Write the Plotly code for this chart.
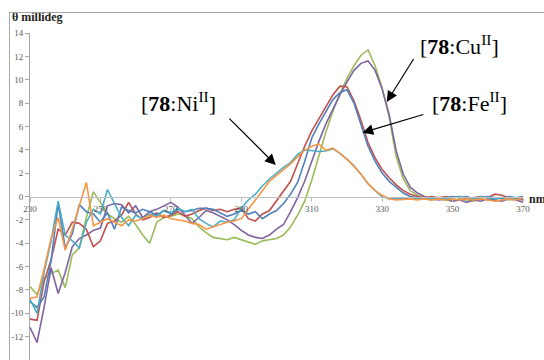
import plotly.graph_objects as go

wavelength = list(range(230, 372, 2))

cu_green = [-7.7, -8.4, -7.0, -6.6, -6.3, -7.8, -5.0, -4.4, -1.8, 0.4,
            -0.5, -1.5, -1.9, -2.2, -1.7, -2.4, -3.3, -4.0, -2.2, -1.8,
            -1.7, -1.5, -1.6, -1.9, -2.6, -3.1, -3.5, -3.6, -3.7, -3.5,
            -3.7, -3.9, -4.1, -3.8, -3.7, -3.6, -3.3, -2.6, -1.6, -0.4,
            1.4, 3.5, 5.5, 7.3, 8.8, 10.1, 11.2, 12.1, 12.55, 11.2,
            9.3, 6.8, 3.4, 1.5, 0.5, 0.1, -0.2, -0.3, -0.2, -0.3,
            -0.4, -0.2, -0.3, -0.4, -0.2, -0.3, -0.2, -0.1, -0.3, -0.2, -0.1]

cu_purple = [-11.2, -12.5, -9.5, -6.1, -8.3, -6.5, -4.3, -3.6, -3.3, -2.9,
             -2.7, -0.8, -0.6, -0.7, -1.4, -0.8, -1.8, -1.3, -1.1, -0.8,
             -0.5, -0.9, -1.6, -2.3, -1.8, -1.2, -1.4, -1.7, -2.0, -2.4,
             -2.9, -3.3, -3.5, -3.6, -3.3, -2.8, -2.4, -1.3, -0.1, 1.3,
             3.0, 4.7, 6.2, 7.5, 8.7, 9.8, 10.8, 11.4, 11.6, 10.8,
             9.2, 7.0, 3.9, 1.9, 0.8, 0.3, 0.0, -0.2, -0.3, -0.2,
             -0.4, -0.3, -0.5, -0.3, -0.4, -0.2, -0.3, -0.4, -0.2, -0.3, -0.5]

fe_red = [-10.5, -10.6, -7.3, -5.4, -2.8, -3.3, -2.2, -2.3, -2.8, -4.3,
          -3.8, -2.3, -2.1, -1.6, -0.5, -1.5, -2.0, -1.8, -1.4, -1.8,
          -1.6, -1.3, -1.7, -1.5, -1.2, -1.0, -1.2, -1.1, -1.3, -1.1,
          -1.0, -1.9, -2.1, -1.5, -1.2, -0.4, 0.4, 1.3, 2.8, 4.3,
          5.6, 6.6, 7.7, 8.7, 9.45, 9.4, 8.2, 6.5, 4.6, 3.3,
          2.3, 1.6, 1.0, 0.5, 0.2, 0.0, -0.1, 0.0, -0.1, 0.0,
          -0.1, 0.0, -0.2, -0.1, 0.0, -0.1, 0.2, 0.1, -0.1, -0.2, -0.3]

fe_blue = [-9.0, -9.5, -8.6, -5.5, -0.6, -4.4, -3.2, -0.7, -1.3, -1.5,
           -2.2, -1.4, -2.8, -0.9, -1.2, -1.4, -1.1, -1.3, -1.6, -1.2,
           -1.5, -1.1, -1.3, -1.2, -1.0, -1.0, -1.1, -1.4, -1.7, -1.5,
           -1.2, -1.5, -1.3, -1.9, -1.5, -1.2, -0.6, 0.2, 1.2, 3.0,
           5.0, 6.2, 7.3, 8.3, 8.9, 9.15, 8.0, 6.2, 4.3, 3.0,
           2.0, 1.3, 0.8, 0.3, 0.0, -0.1, -0.2, -0.1, -0.2, -0.1,
           0.0, -0.1, 0.0, -0.2, -0.1, 0.0, -0.1, -0.2, 0.0, -0.1, 0.0]

ni_cyan = [-8.8, -10.0, -6.5, -3.8, -0.4, -3.3, -3.8, -4.4, -2.2, -1.1,
           -1.5, 0.6, -0.6, -1.8, -2.5, -1.6, -1.9, -1.5, -1.7, -1.2,
           -1.4, -1.0, -1.3, -1.1, -1.9, -2.3, -2.6, -2.1, -2.2, -2.0,
           -1.0, -0.3, 0.2, 0.9, 1.5, 2.0, 2.5, 2.9, 3.6, 4.0,
           3.9, 3.85, 3.9, 4.1, 3.7, 3.2, 2.6, 1.9, 1.1, 0.5,
           0.0, -0.2, -0.2, -0.2, -0.1, -0.2, -0.1, -0.2, -0.1, -0.2,
           -0.1, 0.0, -0.1, -0.2, 0.0, -0.1, -0.2, -0.1, -0.2, -0.1, -0.2]

ni_orange = [-8.7, -8.6, -6.2, -3.6, -1.8, -4.6, -2.8, -0.9, 1.2, -2.5,
             -2.2, -1.9, -2.2, -2.5, -2.0, -2.1, -1.9, -1.6, -1.8, -1.6,
             -1.9, -2.0, -2.1, -2.3, -2.4, -2.8, -2.6, -2.4, -2.2, -2.1,
             -1.9, -1.1, -0.3, 0.6, 1.3, 1.8, 2.3, 2.8, 3.4, 3.95,
             4.3, 4.5, 3.95, 4.15, 3.7, 3.2, 2.6, 1.9, 1.1, 0.5,
             0.1, -0.2, -0.3, -0.25, -0.2, -0.3, -0.2, -0.3, -0.2, -0.3,
             -0.2, -0.3, -0.2, -0.3, -0.2, -0.3, -0.4, -0.3, -0.2, -0.3, -0.1]

series = [
    ("Cu green", cu_green, "#9BBB59"),
    ("Cu purple", cu_purple, "#8064A2"),
    ("Fe red", fe_red, "#C0504D"),
    ("Fe blue", fe_blue, "#4F81BD"),
    ("Ni cyan", ni_cyan, "#4BACC6"),
    ("Ni orange", ni_orange, "#F79646"),
]

x_ticks = list(range(230, 371, 20))
y_ticks = list(range(-14, 15, 2))

fig = go.Figure()
for name, vals, col in series:
    fig.add_trace(go.Scatter(x=wavelength, y=vals, mode="lines", name=name,
                             line=dict(color=col, width=1.6)))

serif = "Liberation Serif, Times New Roman, serif"
tick_font = dict(family=serif, size=9, color="#595959")

fig.update_layout(
    width=544, height=360,
    margin=dict(l=30, r=21, t=33, b=0),
    paper_bgcolor="white", plot_bgcolor="white",
    showlegend=False,
    xaxis=dict(range=[230, 370], tickvals=x_ticks, ticktext=[str(v) for v in x_ticks],
               anchor="free", position=0.5, showline=True, linecolor="#BFBFBF",
               linewidth=1, ticks="outside", ticklen=4, tickcolor="#BFBFBF",
               showgrid=False, zeroline=False, tickfont=tick_font, automargin=False),
    yaxis=dict(range=[-14, 14], tickvals=y_ticks, ticktext=[str(v) for v in y_ticks],
               showline=True, linecolor="#A6A6A6", linewidth=1, ticks="outside",
               ticklen=4, tickcolor="#A6A6A6", showgrid=False, zeroline=False,
               tickfont=tick_font, automargin=False),
)

label_font = dict(family=serif, size=22, color="black")
fig.add_annotation(x=352.0, y=13.0, text="[<b>78</b>:Cu<sup>II</sup>]", showarrow=False,
                   font=label_font, xanchor="center", yanchor="middle")
fig.add_annotation(x=354.8, y=8.1, text="[<b>78</b>:Fe<sup>II</sup>]", showarrow=False,
                   font=label_font, xanchor="center", yanchor="middle")
fig.add_annotation(x=272.3, y=8.1, text="[<b>78</b>:Ni<sup>II</sup>]", showarrow=False,
                   font=label_font, xanchor="center", yanchor="middle")

arrows = [((339.2, 11.9), (331.3, 8.1)),
          ((342.1, 7.06), (324.4, 5.46)),
          ((286.2, 6.8), (299.8, 2.7))]
for (tx, ty), (hx, hy) in arrows:
    fig.add_annotation(x=hx, y=hy, ax=tx, ay=ty, xref="x", yref="y", axref="x", ayref="y",
                       text="", showarrow=True, arrowhead=2, arrowsize=1.8,
                       arrowwidth=1.2, arrowcolor="black", standoff=0)

fig.add_annotation(xref="paper", yref="paper", x=-0.0406, y=1.049, text="<b>θ millideg</b>",
                   showarrow=False, xanchor="left", yanchor="middle",
                   font=dict(family=serif, size=12, color="#222"))
fig.add_annotation(xref="paper", yref="paper", x=1.008, y=0.492, text="<b>nm</b>",
                   showarrow=False, xanchor="left", yanchor="middle",
                   font=dict(family=serif, size=12, color="#222"))

# chart border: a large empty bordered box whose top-left corner is the frame corner
fig.add_annotation(xref="paper", yref="paper", x=-0.0426, y=1.064, text=" ",
                   showarrow=False, xanchor="left", yanchor="top",
                   width=600, height=420, bordercolor="#A6A6A6", borderwidth=1,
                   borderpad=0, font=dict(size=4))

fig.write_html("out.html", config={"displayModeBar": False},
               post_script="document.body.style.margin='0';document.body.style.overflow='hidden';")
